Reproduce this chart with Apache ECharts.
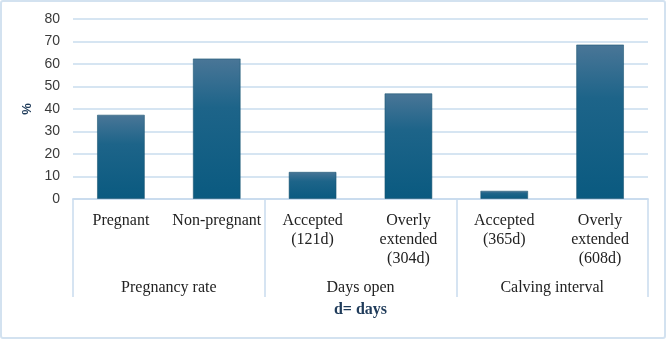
<!DOCTYPE html>
<html>
<head>
<meta charset="utf-8">
<script src="https://cdn.jsdelivr.net/npm/echarts@6/dist/echarts.min.js"></script>
<style>
  html, body { margin: 0; padding: 0; background: #ffffff; }
  #wrap { position: relative; width: 667px; height: 340px; }
  #chart { width: 667px; height: 340px; }
  #frame {
    position: absolute; left: 0; top: 0; width: 662px; height: 335px;
    border: 2px solid #d3e2f0; border-radius: 3px; pointer-events: none;
  }
</style>
</head>
<body>
<div id="wrap">
  <div id="chart"></div>
  <div id="frame"></div>
</div>
<script>
// Reproductive indicators, percentage of cows per class
const categories = ['Pregnant', 'Non-pregnant', 'Accepted\n(121d)', 'Overly\nextended\n(304d)', 'Accepted\n(365d)', 'Overly\nextended\n(608d)'];
const groups = ['Pregnancy rate', 'Days open', 'Calving interval'];
const percentValues = [37.5, 62.5, 12.1, 47, 3.7, 68.7];
const yTicks = { min: 0, max: 80, interval: 10 };

const axisBlue = '#c9dcee';
const serif = '"Liberation Serif", "Times New Roman", serif';
const sans = '"Liberation Sans", Arial, sans-serif';

const chart = echarts.init(document.getElementById('chart'), null, { renderer: 'canvas' });

chart.setOption({
  animation: false,
  grid: { left: 73, right: 19, top: 19, bottom: 141 },
  xAxis: [
    {
      type: 'category',
      data: categories,
      position: 'bottom',
      axisLine: { show: true, lineStyle: { color: axisBlue, width: 1.5 } },
      axisTick: { show: false },
      axisLabel: {
        interval: 0,
        margin: 12,
        fontFamily: serif,
        fontSize: 16,
        lineHeight: 19.3,
        color: '#222222'
      }
    },
    {
      type: 'category',
      data: groups,
      position: 'bottom',
      axisLine: { show: true, lineStyle: { color: axisBlue, width: 1.5 } },
      axisTick: { show: true, length: 98, lineStyle: { color: axisBlue, width: 1.5 } },
      axisLabel: {
        interval: 0,
        margin: 81,
        fontFamily: serif,
        fontSize: 16,
        color: '#222222'
      },
      name: 'd= days',
      nameLocation: 'middle',
      nameGap: 103,
      nameTextStyle: {
        fontFamily: serif,
        fontSize: 16,
        fontWeight: 'bold',
        color: '#1f3b5a'
      }
    }
  ],
  yAxis: {
    type: 'value',
    min: yTicks.min,
    max: yTicks.max,
    interval: yTicks.interval,
    name: '%',
    nameLocation: 'middle',
    nameRotate: 90,
    nameGap: 37,
    nameTextStyle: {
      fontFamily: sans,
      fontSize: 13,
      fontWeight: 'bold',
      color: '#1f3b5a'
    },
    axisLine: { show: false },
    axisTick: { show: false },
    axisLabel: {
      margin: 13,
      fontFamily: sans,
      fontSize: 14,
      color: '#3a3a3a'
    },
    splitLine: { lineStyle: { color: axisBlue, width: 1.5 } }
  },
  series: [
    {
      type: 'bar',
      xAxisIndex: 0,
      data: percentValues,
      barWidth: '50%',
      itemStyle: {
        color: new echarts.graphic.LinearGradient(0, 0, 0, 1, [
          { offset: 0, color: '#4a7697' },
          { offset: 0.35, color: '#1d6489' },
          { offset: 1, color: '#0a5a80' }
        ]),
        borderColor: 'rgba(20,80,110,0.55)',
        borderWidth: 1
      }
    }
  ]
});
</script>
</body>
</html>
